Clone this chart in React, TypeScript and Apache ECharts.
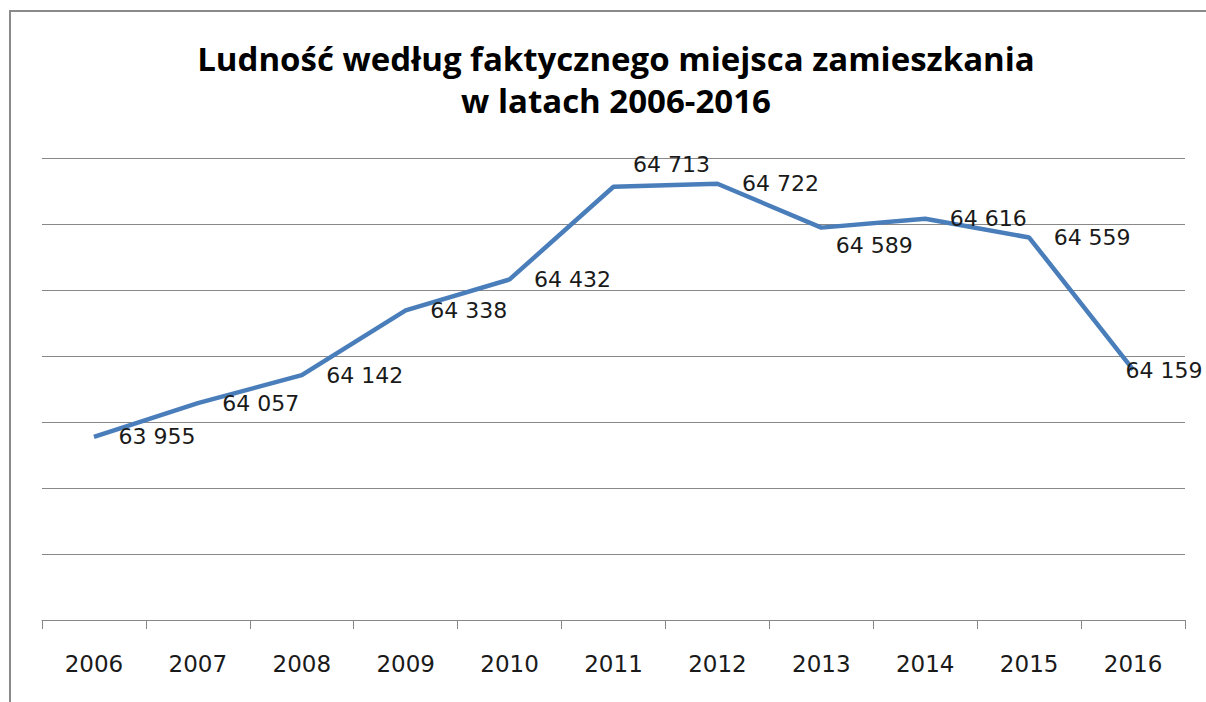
import React, { useEffect, useRef } from "react";
import * as echarts from "echarts";

const years = ["2006", "2007", "2008", "2009", "2010", "2011", "2012", "2013", "2014", "2015", "2016"];
const population = [63955, 64057, 64142, 64338, 64432, 64713, 64722, 64589, 64616, 64559, 64159];
const yMin = 63400;
const yMax = 64800;
const yStep = 200;
const titleLines = ["Ludność według faktycznego miejsca zamieszkania", "w latach 2006-2016"];

// label placement tweaks per year (distance from point, offsets)
const labelTweaks: Record<string, { distance: number; dx: number; dy: number }> = {
  "2011": { distance: 19, dx: 0, dy: -22 },
  "2013": { distance: 14, dx: 0, dy: 18 },
  "2016": { distance: 0, dx: -8, dy: 1 },
};

const fmt = (v: number) => {
  const s = String(v);
  return s.slice(0, s.length - 3) + " " + s.slice(s.length - 3);
};

export default function App() {
  const ref = useRef<HTMLDivElement>(null);
  useEffect(() => {
    if (!ref.current) return;
    const chart = echarts.init(ref.current, null, { renderer: "svg" });
    const data = population.map((v, i) => {
      const t = labelTweaks[years[i]];
      const item: any = { value: v };
      if (t) {
        item.label = { distance: t.distance, offset: [t.dx, t.dy] };
      }
      return item;
    });
    chart.setOption({
      animation: false,
      backgroundColor: "#ffffff",
      title: {
        text: titleLines.join("\n"),
        left: 611,
        top: 32,
        textAlign: "center",
        textStyle: {
          fontFamily: "Open Sans",
          fontWeight: "bold",
          fontSize: 33,
          lineHeight: 42,
          color: "#000000",
        },
      },
      graphic: [
        {
          type: "rect",
          shape: { x: 10, y: 11, width: 1220, height: 720 },
          style: { fill: "none", stroke: "#8a8a8a", lineWidth: 2 },
          silent: true,
        },
      ],
      grid: { left: 42, right: 21, top: 158, bottom: 82 },
      xAxis: {
        type: "category",
        data: years,
        boundaryGap: true,
        axisLine: { show: true, lineStyle: { color: "#888888", width: 1 } },
        axisTick: { show: true, length: 9, lineStyle: { color: "#888888" } },
        axisLabel: {
          margin: 32,
          fontFamily: "DejaVu Sans",
          fontSize: 23,
          color: "#1a1a1a",
        },
        splitLine: { show: false },
      },
      yAxis: {
        type: "value",
        min: yMin,
        max: yMax,
        interval: yStep,
        axisLine: { show: false },
        axisTick: { show: false },
        axisLabel: { show: false },
        splitLine: { show: true, lineStyle: { color: "#888888", width: 1 } },
      },
      series: [
        {
          type: "line",
          data,
          symbol: "circle",
          symbolSize: 1,
          showSymbol: true,
          itemStyle: { color: "rgba(0,0,0,0)" },
          lineStyle: { color: "#4a7ebb", width: 4.5 },
          label: {
            show: true,
            position: "right",
            distance: 24,
            fontFamily: "DejaVu Sans",
            fontSize: 22,
            color: "#1a1a1a",
            formatter: (p: any) => fmt(p.value),
          },
        },
      ],
    });
    return () => chart.dispose();
  }, []);
  return (
    <div
      ref={ref}
      style={{ position: "fixed", left: 0, top: 0, width: 1206, height: 702 }}
    />
  );
}
